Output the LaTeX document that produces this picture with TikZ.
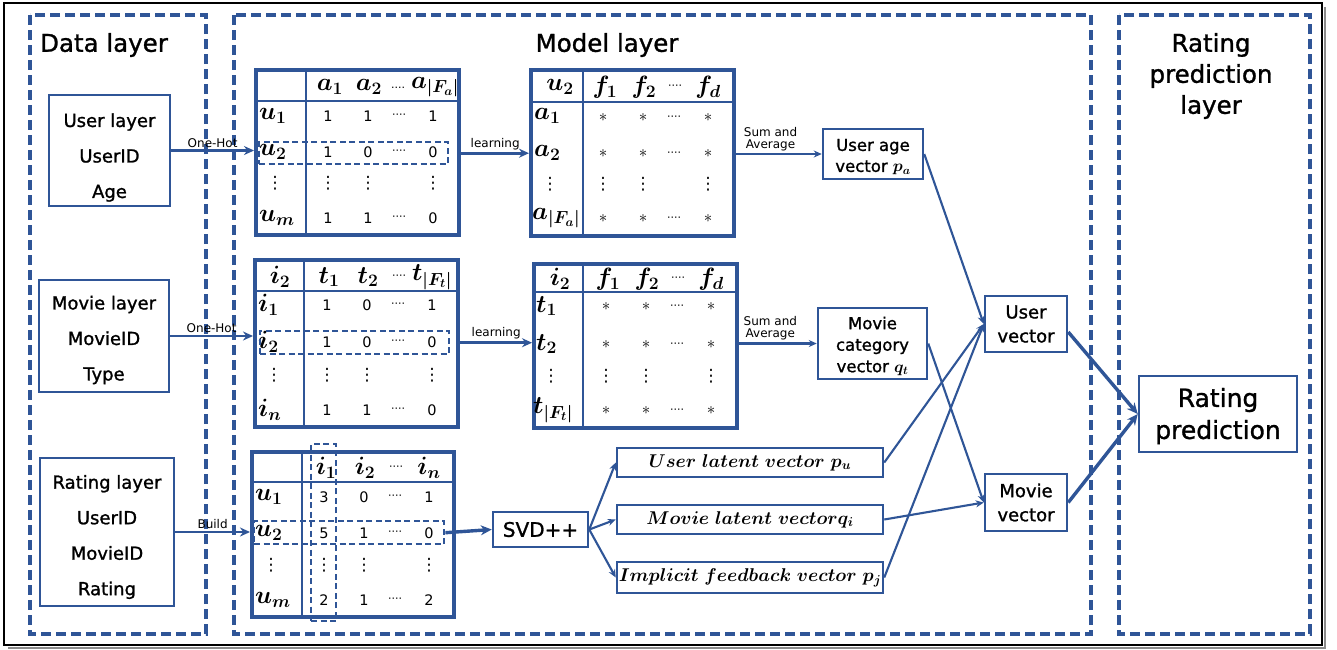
\RequirePackage{fix-cm}
\documentclass[tikz,border=0pt]{standalone}
\usepackage{amsmath,bm}
\usepackage{fontspec}
\setmainfont{DejaVu Sans}
\newfontfamily\hv{DejaVu Sans}[FakeBold=1.2]
\usetikzlibrary{arrows.meta}
\definecolor{bl}{RGB}{47,85,151}
\newcommand\myfs[1]{\fontsize{#1}{#1}\selectfont}
\newcommand\dts{{\myfs{11}····}}
\newcommand\vd{{\myfs{17}⋮}}
\newcommand\st{{\myfs{17}$\ast$}}
\newcommand\mrow[6]{%
 \node[cell] (#1-1) at (74,#2) {#3};
 \node[cell] (#1-2) at (114,#2) {#4};
 \node[cell] (#1-3) at (145,#2) {#5};
 \node[cell] (#1-4) at (179,#2) {#6};}
\newcommand\hrow[6]{%
 \node[mth] (#1-1) at (76,#2) {#3};
 \node[mth] (#1-2) at (115,#2) {#4};
 \node[cell] (#1-3) at (146,#2) {#5};
 \node[mth] (#1-4) at (179,#2) {#6};}
\begin{document}
\begin{tikzpicture}[x=1pt,y=-1pt,
  lay/.style={draw=bl, line width=3.4pt, dash pattern=on 10pt off 5pt},
  bx/.style={draw=bl, line width=2.5pt, inner sep=0pt, align=center},
  btx/.style={inner sep=0pt, align=center, font=\hv\fontsize{18}{35.5}\selectfont},
  mb/.style={draw=bl, line width=4.4pt, inner sep=0pt, anchor=north west},
  inl/.style={draw=bl, line width=2.6pt},
  hl/.style={draw=bl, line width=2.4pt, dash pattern=on 6pt off 3.5pt, inner sep=0pt, anchor=north west},
  arr/.style={draw=bl, line width=2.6pt, -{Stealth[length=10pt,width=9pt]}},
  arr2/.style={draw=bl, line width=2.1pt, -{Stealth[length=8pt,width=7pt]}},
  arr3/.style={draw=bl, line width=3.4pt, -{Stealth[length=11pt,width=10pt]}},
  lbl/.style={font=\myfs{12}, inner sep=0pt, align=center},
  cell/.style={font=\myfs{14.5}, inner sep=0pt},
  mth/.style={font=\myfs{25}, inner sep=0pt},
  rl/.style={font=\myfs{25}, inner sep=0pt, anchor=west},
  ttl/.style={font=\hv\fontsize{24.5}{31}\selectfont, inner sep=0pt, align=center}]
\useasboundingbox (0,0) rectangle (1337,649);
\fill[white] (0,0) rectangle (1337,649);
% outer frame
\draw[black!45, line width=1.5pt] (1325,7) -- (1325,648) -- (8,648);
\draw[black, line width=2.4pt] (4,3) rectangle (1322,645);
% layers
\draw[lay] (30,15) rectangle (206,634);
\draw[lay] (234,15) rectangle (1091,634);
\draw[lay] (1119,15) rectangle (1310,634);
\node[ttl] (t1) at (104,45) {Data layer};
\node[ttl] (t2) at (607,45) {Model layer};
\node[ttl] (t3) at (1211,76) {Rating\\prediction\\layer};
% data boxes
\node[bx, minimum width=121, minimum height=111] (ubox) at (109.5,150.5) {};
\node[btx] (ubt) at (109.5,157.5) {User layer\\UserID\\Age};
\node[bx, minimum width=130, minimum height=112] (mbox) at (104,336) {};
\node[btx] (mbt) at (104,340) {Movie layer\\MovieID\\Type};
\node[bx, minimum width=134, minimum height=148] (rbox) at (107,532) {};
\node[btx] (rbt) at (107,537) {Rating layer\\UserID\\MovieID\\Rating};
% matrix 1
\begin{scope}[shift={(254,68)}]
\node[mb, minimum width=203, minimum height=165] (m1) at (0,0) {};
\draw[inl] (0,33) -- (203,33); \draw[inl] (52,0) -- (52,165);
\node[mth] (m1h1) at (76,19) {$\bm{a_1}$};
\node[mth] (m1h2) at (115,19) {$\bm{a_2}$};
\node[cell] (m1h3) at (144,20) {\myfs{11}....};
\node[mth] (m1h4) at (181,19) {$\bm{a_{|F_a|}}$};
\node[rl] (m1l1) at (5,48) {$\bm{u_1}$};
\node[rl] (m1l2) at (5,84) {$\bm{u_2}$};
\node[cell] (m1l3) at (21,115) {\vd};
\node[rl] (m1l4) at (5,150) {$\bm{u_m}$};
\mrow{m1a}{48}{1}{1}{\dts}{1}
\mrow{m1b}{84}{1}{0}{\dts}{0}
\mrow{m1c}{115}{\vd}{\vd}{}{\vd}
\mrow{m1d}{150}{1}{1}{\dts}{0}
\node[hl, minimum width=189, minimum height=22] (m1r) at (4,73) {};
\end{scope}
% matrix 2
\begin{scope}[shift={(529,68)}]
\node[mb, minimum width=203, minimum height=166] (m2) at (0,0) {};
\draw[inl] (0,34) -- (203,34); \draw[inl] (54,0) -- (54,166);
\node[mth] (m2h0) at (31,19) {$\bm{u_2}$};
\hrow{m2h}{19}{$\bm{f_1}$}{$\bm{f_2}$}{\dts}{$\bm{f_d}$}
\node[rl] (m2l1) at (5,48) {$\bm{a_1}$};
\node[rl] (m2l2) at (5,85) {$\bm{a_2}$};
\node[cell] (m2l3) at (21,116) {\vd};
\node[rl] (m2l4) at (3,150) {$\bm{a_{|F_a|}}$};
\mrow{m2a}{50}{\st}{\st}{\dts}{\st}
\mrow{m2b}{86}{\st}{\st}{\dts}{\st}
\mrow{m2c}{116}{\vd}{\vd}{}{\vd}
\mrow{m2d}{151}{\st}{\st}{\dts}{\st}
\end{scope}
% matrix 3
\begin{scope}[shift={(253,258)}]
\node[mb, minimum width=203, minimum height=167] (m3) at (0,0) {};
\draw[inl] (0,33) -- (203,33); \draw[inl] (51,0) -- (51,167);
\node[mth] (m3h0) at (27,19) {$\bm{i_2}$};
\hrow{m3h}{19}{$\bm{t_1}$}{$\bm{t_2}$}{\dts}{$\bm{t_{|F_t|}}$}
\node[rl] (m3l1) at (5,47) {$\bm{i_1}$};
\node[rl] (m3l2) at (5,84) {$\bm{i_2}$};
\node[cell] (m3l3) at (21,117) {\vd};
\node[rl] (m3l4) at (5,152) {$\bm{i_n}$};
\mrow{m3a}{47}{1}{0}{\dts}{1}
\mrow{m3b}{84}{1}{0}{\dts}{0}
\mrow{m3c}{117}{\vd}{\vd}{}{\vd}
\mrow{m3d}{152}{1}{1}{\dts}{0}
\node[hl, minimum width=189, minimum height=23] (m3r) at (6,72) {};
\end{scope}
% matrix 4
\begin{scope}[shift={(532,262)}]
\node[mb, minimum width=203, minimum height=164] (m4) at (0,0) {};
\draw[inl] (0,30) -- (203,30); \draw[inl] (51,0) -- (51,164);
\node[mth] (m4h0) at (28,17) {$\bm{i_2}$};
\hrow{m4h}{17}{$\bm{f_1}$}{$\bm{f_2}$}{\dts}{$\bm{f_d}$}
\node[rl] (m4l1) at (4,44) {$\bm{t_1}$};
\node[rl] (m4l2) at (4,82) {$\bm{t_2}$};
\node[cell] (m4l3) at (19,114) {\vd};
\node[rl] (m4l4) at (1,148) {$\bm{t_{|F_t|}}$};
\mrow{m4a}{45}{\st}{\st}{\dts}{\st}
\mrow{m4b}{83}{\st}{\st}{\dts}{\st}
\mrow{m4c}{114}{\vd}{\vd}{}{\vd}
\mrow{m4d}{149}{\st}{\st}{\dts}{\st}
\end{scope}
% matrix 5
\begin{scope}[shift={(250,450)}]
\node[mb, minimum width=202, minimum height=165] (m5) at (0,0) {};
\draw[inl] (0,32) -- (202,32); \draw[inl] (52,0) -- (52,165);
\hrow{m5h}{18}{$\bm{i_1}$}{$\bm{i_2}$}{\dts}{$\bm{i_n}$}
\node[rl] (m5l1) at (5,47) {$\bm{u_1}$};
\node[rl] (m5l2) at (5,83) {$\bm{u_2}$};
\node[cell] (m5l3) at (21,115) {\vd};
\node[rl] (m5l4) at (5,150) {$\bm{u_m}$};
\mrow{m5a}{47}{3}{0}{\dts}{1}
\mrow{m5b}{83}{5}{1}{\dts}{0}
\mrow{m5c}{115}{\vd}{\vd}{}{\vd}
\mrow{m5d}{150}{2}{1}{\dts}{2}
\node[hl, minimum width=190, minimum height=23] (m5r) at (3,70) {};
\node[hl, minimum width=25, minimum height=177] (m5c) at (60,-7) {};
\end{scope}
% vector boxes
\node[bx, minimum width=100, minimum height=50] (ua) at (873,154) {};
\node[btx, font=\hv\fontsize{16.5}{21}\selectfont] (uat) at (873,157) {User age\\vector $\bm{p_a}$};
\node[bx, minimum width=109, minimum height=71] (mc) at (872.5,343.5) {};
\node[btx, font=\hv\fontsize{16.5}{21.5}\selectfont] (mct) at (872.5,346) {Movie\\category\\vector $\bm{q_t}$};
\node[bx, minimum width=95, minimum height=35, font=\hv\myfs{20}] (svd) at (540.5,529.5) {SVD++};
\node[bx, minimum width=266, minimum height=29, font=\myfs{18.5}] (ul) at (750,462.5) {$\bm{User\ latent\ vector\ p_u}$};
\node[bx, minimum width=266, minimum height=29, font=\myfs{18.5}] (ml) at (750,519.5) {$\bm{Movie\ latent\ vectorq_i}$};
\node[bx, minimum width=266, minimum height=31, font=\myfs{18.5}] (ifb) at (750,577.5) {$\bm{Implicit\ feedback\ vector\ p_j}$};
\node[bx, minimum width=82, minimum height=56, font=\hv\fontsize{18}{24}\selectfont] (uv) at (1026,324) {User\\vector};
\node[bx, minimum width=82, minimum height=57, font=\hv\fontsize{18}{24}\selectfont] (mv) at (1026,502.5) {Movie\\vector};
\node[bx, minimum width=158, minimum height=76] (rp) at (1218,414) {};
\node[btx, font=\hv\fontsize{25}{32}\selectfont] (rpt) at (1218,416) {Rating\\prediction};
% connectors
\draw[arr] (ubox.east) -- (m1.west |- ubox.east) node[lbl, midway, above=2pt] {One-Hot};
\draw[arr] (mbox.east) -- (m3.west |- mbox.east) node[lbl, midway, above=2pt] {One-Hot};
\draw[arr] (rbox.east) -- (m5.west |- rbox.east) node[lbl, midway, above=2pt] {Build};
\draw[arr] (m1.east |- m1r.east) -- (m2.west |- m1r.east) node[lbl, midway, above=2pt] {learning};
\draw[arr] (m3.east |- m3r.east) -- (m4.west |- m3r.east) node[lbl, midway, above=2pt] {learning};
\draw[arr2] (m2.east |- ua.west) -- (ua.west) node[lbl, pos=0.4, above=2pt] {Sum and\\Average};
\draw[arr2] (m4.east |- mc.west) -- (mc.west) node[lbl, pos=0.4, above=2pt] {Sum and\\Average};
\draw[arr3] (m5r.east) -- (svd.west);
\draw[arr2] (svd.east) -- (ul.west);
\draw[arr2] (svd.east) -- (ml.west);
\draw[arr2] (svd.east) -- (ifb.west);
\draw[arr2] (ua.east) -- (uv.west);
\draw[arr2] (ul.east) -- (uv.west);
\draw[arr2] (ifb.east) -- (uv.west);
\draw[arr2] (mc.east) -- (mv.west);
\draw[arr2] (ml.east) -- (mv.west);
\draw[arr3] ([yshift=-8pt]uv.east) -- (rp.west);
\draw[arr3] (mv.east) -- (rp.west);
\end{tikzpicture}
\end{document}
